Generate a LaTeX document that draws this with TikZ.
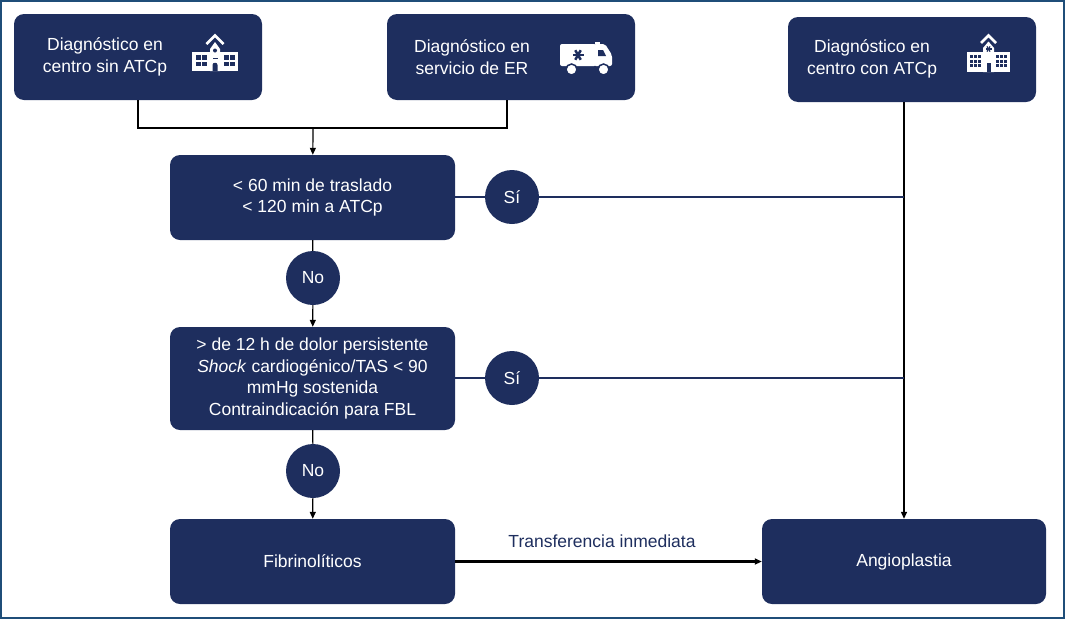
\documentclass[tikz,border=0pt]{standalone}
\usepackage{fontspec}
\setmainfont{Liberation Sans}
\usetikzlibrary{arrows.meta}
\definecolor{navy}{HTML}{1E2E5E}
\definecolor{framec}{HTML}{1F4E79}

\begin{document}
\begin{tikzpicture}[x=1pt,y=-1pt,>={Triangle[length=7pt,width=6pt]}]
        \tikzstyle{every node} = [font=\fontsize{17.5}{21.7}\selectfont]
        \tikzstyle{box} = [rectangle, rounded corners=10pt, fill=navy, text=white, align=center, inner sep=0pt, minimum width=285pt, minimum height=85pt]
        \tikzstyle{diag} = [box, minimum width=248pt, minimum height=86pt]
        \tikzstyle{txt} = [text=white, align=center, inner sep=0pt]
        \tikzstyle{dec} = [circle, fill=navy, text=white, inner sep=0pt, minimum size=54pt]
        \useasboundingbox (0,0) rectangle (1065,619);
        \draw[framec, line width=2pt] (1,1) rectangle (1064,618);

        \node[diag] (0) at (138,57) {};
        \node[txt] (0t) at (105,57) {Diagnóstico en\\centro sin ATCp};
        \node[diag] (1) at (511,57) {};
        \node[txt] (1t) at (472,57) {Diagnóstico en\\servicio de ER};
        \node[diag, minimum height=85pt] (2) at (912,59.5) {};
        \node[txt] (2t) at (872,59) {Diagnóstico en\\centro con ATCp};
        \node[box] (3) at (312.5,197.5) {< 60 min de traslado\\< 120 min a ATCp};
        \node[dec] (4) at (313,278) {No};
        \node[box, minimum height=103pt] (5) at (312.5,378.5) {> de 12 h de dolor persistente\\\textit{Shock} cardiogénico/TAS < 90\\mmHg sostenida\\Contraindicación para FBL};
        \node[dec] (6) at (512,197) {Sí};
        \node[dec] (7) at (512,378) {Sí};
        \node[dec] (8) at (313,471) {No};
        \node[box] (9) at (312.5,561.5) {Fibrinolíticos};
        \node[box, minimum width=284pt] (10) at (904,561.5) {Angioplastia};

        % school
        \fill[white] (192,52) rectangle (238,71);
        \fill[white] (210,71) -- (210,49) -- (215,42) -- (220,49) -- (220,71) -- cycle;
        \draw[white, line width=2.5pt] (206.5,44) -- (215,35.5) -- (223.5,44);
        \foreach \x in {195.5,201.5,224,230}
            \foreach \y in {55,61.5}
                \fill[navy] (\x,\y) rectangle +(5,4.5);
        \fill[navy] (215,50.5) circle (2);
        \fill[navy] (212.5,57.5) rectangle (217.5,59);
        \fill[navy] (212.5,71) -- (212.5,65) .. controls (212.5,62) and (217.5,62) .. (217.5,65) -- (217.5,71) -- cycle;

        % ambulance
        \fill[white, rounded corners=2pt] (560,44) rectangle (596,66);
        \fill[white, rounded corners=2pt] (594,44) -- (605,44) -- (612,55) -- (612,66) -- (594,66) -- cycle;
        \fill[white] (595,41.5) rectangle (600,44);
        \fill[navy] (598,50) -- (603,50) -- (606,56) -- (598,56) -- cycle;
        \foreach \a in {0,60,120}
            \draw[navy, line width=2.5pt] (578,55) ++(\a:5.5) -- ++(\a+180:11);
        \foreach \x in {571.5,603.5}
            \draw[navy, fill=white, line width=1.5pt] (\x,69.5) circle (5.5);

        % hospital
        \fill[white] (967,52) rectangle (1010,72);
        \fill[white] (983,72) -- (983,48) -- (988.5,41.5) -- (994,48) -- (994,72) -- cycle;
        \draw[white, line width=2.5pt] (981,43) -- (988.5,35.5) -- (996,43);
        \foreach \x in {969.5,973.5,977.5,995.5,999.5,1003.5}
            \foreach \y in {55,59.5,64}
                \fill[navy] (\x,\y) rectangle +(3,3);
        \foreach \a in {0,60,120}
            \draw[navy, line width=1.2pt] (988.5,49) ++(\a:3) -- ++(\a+180:6);
        \fill[navy] (986.5,62.5) rectangle (991,72);

        % connectors
        \coordinate (j) at (313,128);
        \coordinate (b) at (507,100);
        \draw[line width=1.2pt] (0.south) |- (j) -| (b);
        \draw[->, line width=1.2pt] (j) -- (3);
        \foreach \from/\to/\tip in {3/4/-, 4/5/->, 5/8/-, 8/9/->}
            \draw[\tip, line width=1.2pt] (\from) -- (\to);
        \draw[->, line width=1.3pt] (2.south -| 10.north) -- (10.north);
        \foreach \from in {6,7} {
            \draw[navy, line width=1.2pt] (\from) -- (\from -| 10.north);
            \draw[navy, line width=1.2pt] (\from -| 3.east) -- (\from);
        }
        \draw[->, line width=3pt] (9) -- (10);
        \node[text=navy] (11) at (602,541) {Transferencia inmediata};
\end{tikzpicture}
\end{document}
